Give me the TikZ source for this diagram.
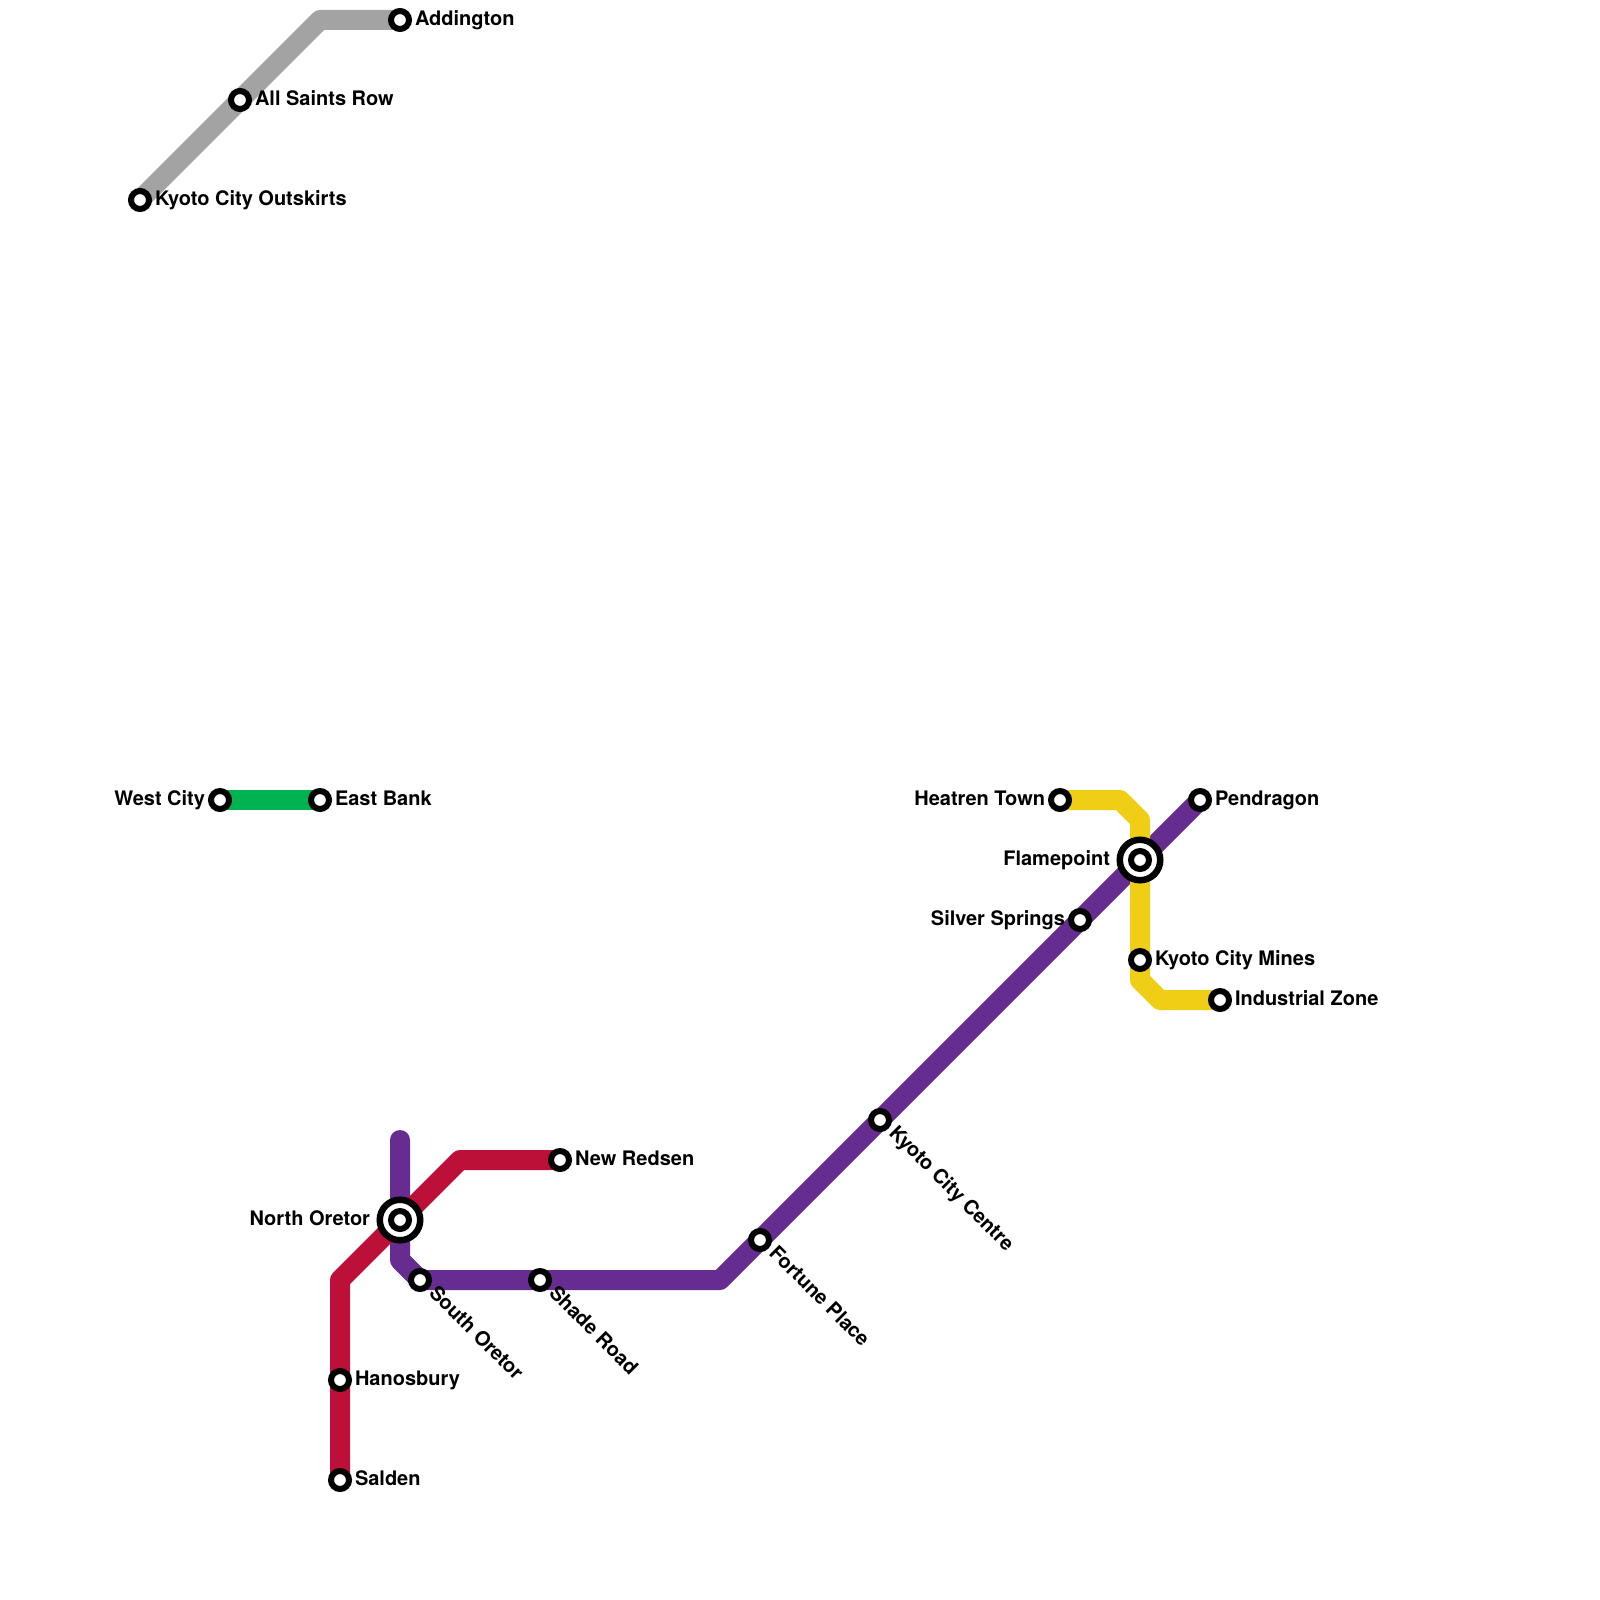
\documentclass[tikz,border=0pt]{standalone}
\usepackage{fontspec}
\setmainfont{TeX Gyre Heros}
\usetikzlibrary{backgrounds}
\definecolor{lgrey}{HTML}{A3A3A3}
\definecolor{lgreen}{HTML}{00B251}
\definecolor{lyellow}{HTML}{F0CE15}
\definecolor{lpurple}{HTML}{662C90}
\definecolor{lred}{HTML}{BD1038}
\tikzset{
  x=1pt,y=-1pt,
  stn/.style={circle,draw=black,fill=white,line width=6pt,minimum size=18pt,inner sep=0pt,outer sep=0pt},
  hub/.style={circle,draw=black,fill=white,line width=6.5pt,minimum size=40.5pt,inner sep=0pt,outer sep=0pt},
  metro/.style={line width=20pt,line join=round},
  lab/.style={font=\bfseries\fontsize{20pt}{21pt}\selectfont,inner sep=0pt,outer sep=0pt,text=black},
  labr/.style={lab,anchor=base west},
  labl/.style={lab,anchor=base east},
  labd/.style={lab,anchor=base west,rotate=-45}
}
\begin{document}
\begin{tikzpicture}
\useasboundingbox (0,0) rectangle (1600,1600);
% interchange rings
\node[hub] (northring) at (400,1220) {};
\node[hub] (flamering) at (1140,860) {};
% stations
\node[stn] (addington) at (400,20) {};
\node[stn] (allsaints) at (240,100) {};
\node[stn] (outskirts) at (140,200) {};
\node[stn] (westcity) at (220,800) {};
\node[stn] (eastbank) at (320,800) {};
\node[stn] (heatren) at (1060,800) {};
\node[stn] (pendragon) at (1200,800) {};
\node[stn] (flamepoint) at (1140,860) {};
\node[stn] (silver) at (1080,920) {};
\node[stn] (mines) at (1140,960) {};
\node[stn] (industrial) at (1220,1000) {};
\node[stn] (centre) at (880,1120) {};
\node[stn] (fortune) at (760,1240) {};
\node[stn] (shade) at (540,1280) {};
\node[stn] (southoretor) at (420,1280) {};
\node[stn] (northoretor) at (400,1220) {};
\node[stn] (redsen) at (560,1160) {};
\node[stn] (hanosbury) at (340,1380) {};
\node[stn] (salden) at (340,1480) {};
% bends
\coordinate (g1) at (320,20);
\coordinate (p0) at (400,1140);
\coordinate (p1) at (400,1260);
\coordinate (p2) at (720,1280);
\coordinate (r1) at (460,1160);
\coordinate (r2) at (340,1280);
\coordinate (y1) at (1120,800);
\coordinate (y2) at (1140,820);
\coordinate (y3) at (1140,980);
\coordinate (y4) at (1160,1000);
\begin{pgfonlayer}{background}
\fill[white] (0,0) rectangle (1600,1600);
\draw[metro,lgrey] (outskirts.center) -- (allsaints.center) -- (g1) -- (addington.center);
\draw[metro,lgreen] (westcity.center) -- (eastbank.center);
\draw[metro,lpurple,line cap=round] (p0) -- (p1) -- (southoretor.center);
\draw[metro,lpurple] (p1) -- (southoretor.center) -- (shade.center) -- (p2) -- (fortune.center) -- (centre.center) -- (silver.center) -- (flamepoint.center) -- (pendragon.center);
\draw[metro,lred] (redsen.center) -- (r1) -- (northoretor.center) -- (r2) -- (hanosbury.center) -- (salden.center);
\draw[metro,lyellow] (heatren.center) -- (y1) -- (y2) -- (flamepoint.center) -- (mines.center) -- (y3) -- (y4) -- (industrial.center);
\end{pgfonlayer}
% labels
\node[labr] (tAddington) at (415,25.5) {Addington};
\node[labr] (tAllsaints) at (255,105.5) {All Saints Row};
\node[labr] (tOutskirts) at (155,205) {Kyoto City Outskirts};
\node[labl] (tWest) at (205,805) {West City};
\node[labr] (tEast) at (335,805) {East Bank};
\node[labl] (tHeatren) at (1045,805) {Heatren Town};
\node[labr] (tPendragon) at (1215,805) {Pendragon};
\node[labl] (tFlame) at (1110,865) {Flamepoint};
\node[labl] (tSilver) at (1065,925) {Silver Springs};
\node[labr] (tMines) at (1155,965) {Kyoto City Mines};
\node[labr] (tInd) at (1235,1005) {Industrial Zone};
\node[labr] (tRedsen) at (575,1165) {New Redsen};
\node[labl] (tNorth) at (370,1225) {North Oretor};
\node[labr] (tHanos) at (355,1385) {Hanosbury};
\node[labr] (tSalden) at (355,1485) {Salden};
\node[labd] (tCentre) at (888,1134) {Kyoto City Centre};
\node[labd] (tFortune) at (768,1254) {Fortune Place};
\node[labd] (tShade) at (548,1294) {Shade Road};
\node[labd] (tSouth) at (428,1294) {South Oretor};
\end{tikzpicture}
\end{document}
